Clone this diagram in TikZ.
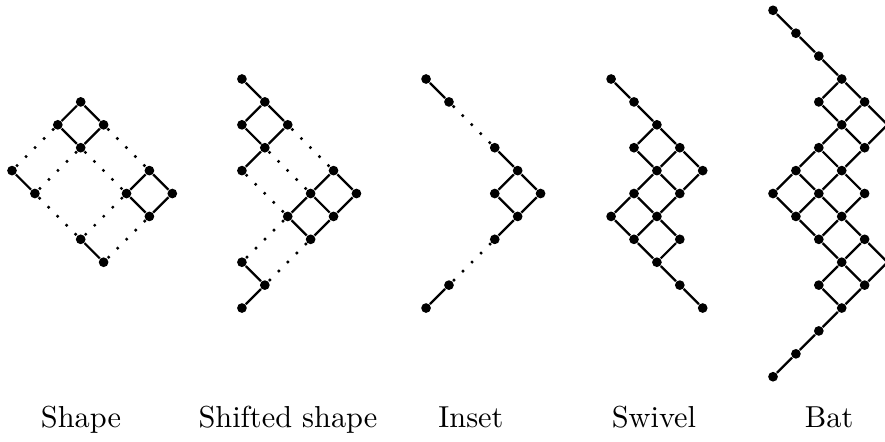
\documentclass[tikz,border=0pt]{standalone}
\usepackage{tikz}
\usetikzlibrary{positioning}

\begin{document}
\begin{tikzpicture}[
  x=7.55pt, y=-7.55pt,
  dot/.style={circle, fill, inner sep=0pt, minimum size=3.2pt},
  edge/.style={line width=0.75pt},
  gap/.style={line width=0.8pt, dash pattern=on 0.8pt off 3.4pt},
  lbl/.style={anchor=base, font=\normalsize}
]
\useasboundingbox (-0.524,-3.45) rectangle (38.12,15.81);

% Shape
\begin{scope}[shift={(0,1)}]
  \foreach \c/\r in {3/0,2/1,4/1,3/2,0/3,1/4,6/3,5/4,7/4,6/5,3/6,4/7}
    \node[dot] (a\c-\r) at (\c,\r) {};
  \foreach \p/\q in {3-0/2-1,3-0/4-1,2-1/3-2,4-1/3-2,0-3/1-4,6-3/5-4,
                     6-3/7-4,5-4/6-5,7-4/6-5,3-6/4-7}
    \draw[edge] (a\p) -- (a\q);
  \foreach \p/\q in {2-1/0-3,4-1/6-3,3-2/1-4,3-2/5-4,1-4/3-6,5-4/3-6,6-5/4-7}
    \draw[gap] (a\p) -- (a\q);
\end{scope}

% Shifted shape
\begin{scope}[shift={(10.04,0)}]
  \foreach \c/\r in {0/0,1/1,0/2,2/2,1/3,0/4,4/4,3/5,5/5,2/6,4/6,3/7,
                     0/8,1/9,0/10}
    \node[dot] (b\c-\r) at (\c,\r) {};
  \foreach \p/\q in {0-0/1-1,1-1/0-2,1-1/2-2,0-2/1-3,2-2/1-3,1-3/0-4,
                     4-4/3-5,4-4/5-5,3-5/2-6,3-5/4-6,5-5/4-6,2-6/3-7,
                     4-6/3-7,0-8/1-9,1-9/0-10}
    \draw[edge] (b\p) -- (b\q);
  \foreach \p/\q in {2-2/4-4,1-3/3-5,0-4/2-6,2-6/0-8,3-7/1-9}
    \draw[gap] (b\p) -- (b\q);
\end{scope}

% Inset
\begin{scope}[shift={(18.08,0)}]
  \foreach \c/\r in {0/0,1/1,3/3,4/4,3/5,5/5,4/6,3/7,1/9,0/10}
    \node[dot] (c\c-\r) at (\c,\r) {};
  \foreach \p/\q in {0-0/1-1,3-3/4-4,4-4/3-5,4-4/5-5,3-5/4-6,5-5/4-6,
                     4-6/3-7,1-9/0-10}
    \draw[edge] (c\p) -- (c\q);
  \foreach \p/\q in {1-1/3-3,3-7/1-9}
    \draw[gap] (c\p) -- (c\q);
\end{scope}

% Swivel
\begin{scope}[shift={(26.16,0)}]
  \foreach \c/\r in {0/0,1/1,2/2,1/3,3/3,2/4,4/4,1/5,3/5,0/6,2/6,1/7,
                     3/7,2/8,3/9,4/10}
    \node[dot] (d\c-\r) at (\c,\r) {};
  \foreach \p/\q in {0-0/1-1,1-1/2-2,2-2/1-3,2-2/3-3,1-3/2-4,3-3/2-4,
                     3-3/4-4,4-4/3-5,2-4/3-5,2-4/1-5,1-5/0-6,1-5/2-6,
                     3-5/2-6,0-6/1-7,2-6/1-7,2-6/3-7,1-7/2-8,3-7/2-8,
                     2-8/3-9,3-9/4-10}
    \draw[edge] (d\p) -- (d\q);
\end{scope}

% Bat
\begin{scope}[shift={(33.23,-3)}]
  \foreach \c/\r in {0/0,1/1,2/2,3/3,2/4,4/4,3/5,2/6,4/6,1/7,3/7,0/8,
                     2/8,4/8,1/9,3/9,2/10,4/10,3/11,2/12,4/12,3/13,
                     2/14,1/15,0/16}
    \node[dot] (e\c-\r) at (\c,\r) {};
  \coordinate (e5-5) at (5,5);
  \coordinate (e5-11) at (5,11);
  \foreach \p/\q in {0-0/1-1,1-1/2-2,2-2/3-3,3-3/2-4,3-3/4-4,2-4/3-5,
                     4-4/3-5,4-4/5-5,5-5/4-6,3-5/4-6,3-5/2-6,2-6/3-7,
                     4-6/3-7,2-6/1-7,1-7/0-8,1-7/2-8,3-7/2-8,3-7/4-8,
                     0-8/1-9,2-8/1-9,2-8/3-9,4-8/3-9,1-9/2-10,3-9/2-10,
                     3-9/4-10,2-10/3-11,4-10/3-11,4-10/5-11,5-11/4-12,
                     3-11/4-12,3-11/2-12,2-12/3-13,4-12/3-13,3-13/2-14,
                     2-14/1-15,1-15/0-16}
    \draw[edge] (e\p) -- (e\q);
\end{scope}

% captions
\node[lbl] (shape) at (3.01,15.2) {Shape};
\node[lbl] (shifted) at (12.05,15.2) {Shifted shape};
\node[lbl] (inset) at (20.04,15.2) {Inset};
\node[lbl] (swivel) at (28.03,15.2) {Swivel};
\node[lbl] (bat) at (35.68,15.2) {Bat};

\end{tikzpicture}
\end{document}
